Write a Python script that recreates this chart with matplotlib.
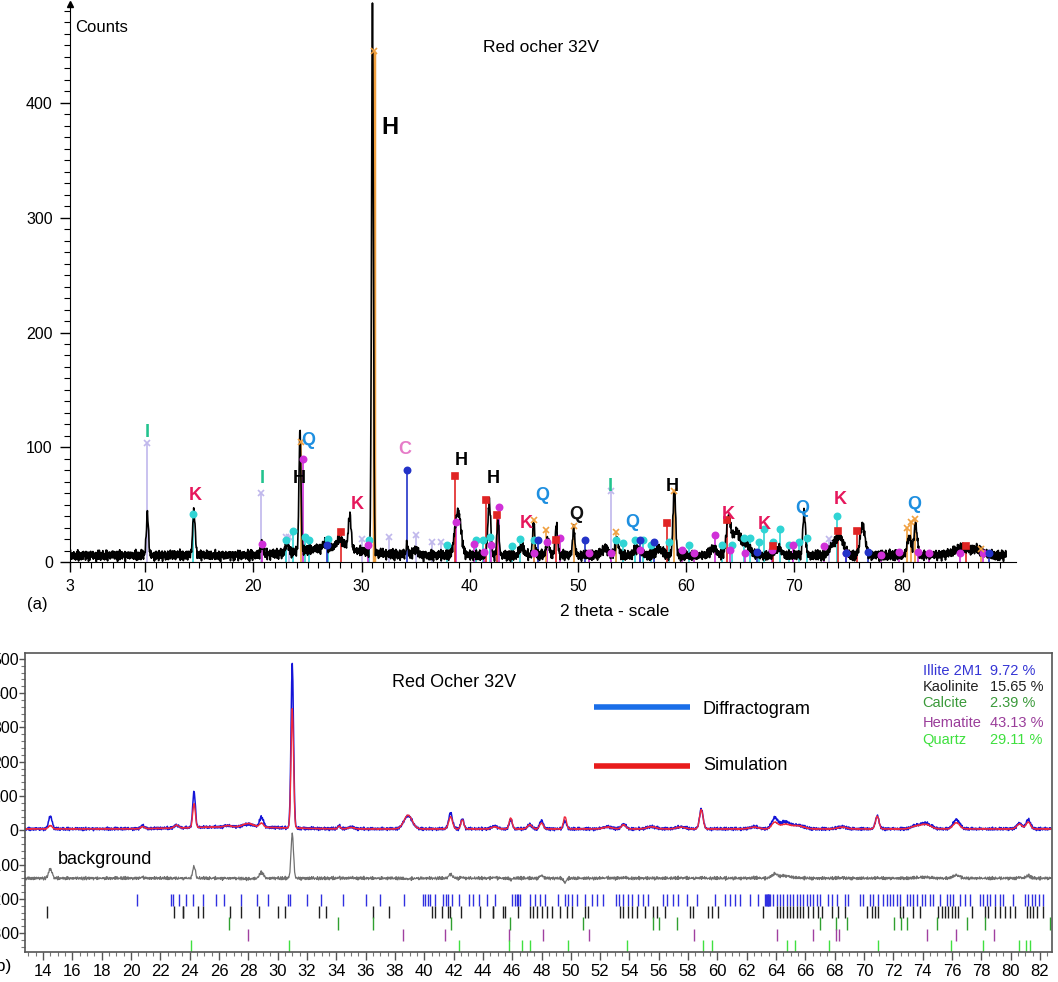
import numpy as np
import matplotlib.pyplot as plt
from matplotlib.ticker import MultipleLocator, FixedLocator

plt.rcParams['font.family'] = ['Liberation Sans', 'DejaVu Sans']

W, H = 1058, 982

peak_pos = [10.2, 14.5, 20.8, 23.1, 24.3, 26.6, 27.0, 28.0, 28.9, 31.0, 34.2, 35.0,
            38.9, 41.8, 42.6, 44.8, 45.9, 47.2, 48.0, 49.6, 52.5, 53.6, 55.5, 57.5,
            58.9, 62.5, 63.9, 64.6, 65.5, 68.5, 70.9, 73.5, 74.2, 76.3, 80.6, 81.2,
            85.5, 87.0]
peak_obs = [36, 37, 9, 8, 105, 4, 6, 8, 30, 477, 10, 5,
            38, 46, 30, 8, 28, 12, 25, 24, 6, 14, 6, 6,
            58, 6, 30, 20, 10, 6, 38, 8, 16, 27, 16, 27,
            6, 4]
peak_sim = [30, 10, 6, 8, 70, 4, 6, 10, 12, 348, 8, 4,
            40, 35, 27, 6, 32, 12, 17, 36, 5, 12, 6, 5,
            56, 5, 18, 13, 9, 5, 37, 7, 13, 18, 14, 20,
            6, 4]
peak_wid = [0.10, 0.12, 0.12, 0.15, 0.09, 0.2, 3.0, 0.35, 0.13, 0.085, 0.08, 0.2,
            0.28, 0.13, 0.10, 0.2, 0.10, 0.15, 0.12, 0.10, 0.3, 0.15, 0.3, 0.3,
            0.12, 0.3, 0.2, 0.35, 0.4, 0.3, 0.12, 0.3, 0.35, 0.22, 0.18, 0.15,
            0.8, 0.5]

# counting noise read as a jitter sequence
noise_a = [2.1, -3.4, 4.0, -1.2, 0.5, -4.1, 3.2, 1.8, -2.6, -0.7, 3.9, -3.1, 1.1, 2.7,
           -4.4, 0.2, -1.9, 3.5, -2.2, 4.3, -0.4, -3.7, 2.4, 1.3, -2.9, 0.9, 3.0, -4.0,
           1.6, -1.0, 2.2, -3.3, 4.1, -0.9, -2.0, 3.6, 0.3, -3.8, 2.8, -1.5, 1.0, -2.4,
           3.3, -0.1, -4.2, 2.5, 1.9, -3.0, 0.6, 3.7, -2.7, -0.6, 2.0, -1.7, 4.4, -3.6,
           1.4, 0.0, -2.3, 3.1, -1.1, 2.6, -4.3, 0.8, 1.7, -2.8, 3.4]
noise_b = [1.2, -0.8, 2.0, -1.9, 0.4, 1.6, -2.2, 0.9, -0.3, 2.3, -1.4, 0.1, 1.8, -2.0,
           0.7, -1.1, 2.1, -0.5, -1.7, 1.3, 0.0, -2.4, 1.5, 0.6, -0.9, 2.2, -1.6, 0.3,
           1.0, -2.1, 1.9, -0.2, -1.3, 0.8, 2.4, -1.8, 0.5, -0.6, 1.4, -2.3, 1.1]

# ---- stick patterns in panel (a): positions and heights per phase
ill_x = [10.2, 20.7, 23.0, 23.3, 30.0, 32.5, 35.0, 36.5, 37.3, 53.0, 73.2]
ill_h = [104, 60, 22, 22, 20, 22, 24, 18, 18, 62, 20]
kao_x = [14.4, 23.0, 23.7, 24.8, 25.1, 26.9, 30.7, 37.9, 40.6, 41.2, 41.9, 43.9, 44.6,
         45.9, 53.5, 54.2, 55.3, 56.0, 56.7, 58.4, 60.3, 63.3, 64.2, 65.3, 65.9, 66.7,
         67.2, 68.0, 68.7, 69.5, 70.4, 71.2, 73.9]
kao_h = [42, 19, 27, 22, 19, 20, 19, 15, 19, 19, 22, 14, 20,
         19, 19, 17, 19, 19, 15, 18, 15, 15, 15, 21, 21, 18,
         29, 18, 29, 15, 18, 21, 40]
mag_x = [20.8, 24.6, 30.6, 38.7, 40.4, 41.3, 42.0, 42.7, 45.9, 47.1, 48.3, 51.0, 53.0,
         55.7, 59.6, 60.7, 62.7, 64.0, 65.4, 67.9, 69.9, 72.7, 74.8, 78.0, 79.7, 81.4,
         82.4, 85.3, 87.4]
mag_h = [16, 90, 15, 35, 16, 9, 15, 48, 8, 18, 21, 8, 8,
         11, 11, 8, 24, 11, 8, 11, 15, 14, 8, 6, 9, 9,
         8, 8, 8]
blu_x = [26.8, 34.2, 46.3, 50.6, 55.7, 57.0, 66.5, 74.8, 76.8, 88.0]
blu_h = [15, 80, 19, 19, 19, 18, 9, 8, 9, 8]
red_x = [28.1, 38.6, 41.5, 42.5, 48.0, 58.2, 63.8, 68.0, 74.0, 75.8, 85.9]
red_h = [26, 75, 54, 41, 19, 34, 37, 14, 27, 27, 14]
ora_x = [24.4, 31.1, 45.9, 47.0, 49.6, 53.5, 58.9, 80.4, 80.8, 81.1, 87.2]
ora_h = [105, 445, 37, 28, 32, 26, 62, 30, 35, 38, 12]

lab_txt = ['I', 'K', 'I', 'H', 'Q', 'K', 'H', 'C', 'H', 'H', 'K', 'Q', 'Q', 'I', 'Q',
           'H', 'K', 'K', 'Q', 'K', 'Q']
lab_x = [10.2, 14.6, 20.8, 24.2, 25.1, 29.6, 32.6, 34.0, 39.2, 42.2, 45.2, 46.7, 49.8,
         53.0, 55.0, 58.7, 63.9, 67.2, 70.7, 74.2, 81.1]
lab_y = [113, 58, 73, 73, 106, 50, 378, 98, 89, 73, 34, 58, 42,
         66, 35, 66, 42, 33, 47, 55, 50]
lab_col = ['#22c38e', '#e6175c', '#22c38e', 'black', '#1e8fe0', '#e6175c', 'black',
           '#e67cc8', 'black', 'black', '#e6175c', '#1e8fe0', '#111111', '#22c38e',
           '#1e8fe0', 'black', '#e6175c', '#e6175c', '#1e8fe0', '#e6175c', '#1e8fe0']

# ---- reflection markers in panel (b)
hkl_illite = [20.39, 22.71, 22.84, 23.30, 23.75, 24.21, 24.94, 25.80, 26.35, 27.48, 28.57,
              29.37, 30.73, 30.85, 32.03, 32.96, 34.49, 36.01, 36.99, 38.65, 39.90, 40.06,
              40.24, 40.40, 40.74, 41.31, 41.49, 41.65, 41.88, 42.38, 43.08, 43.31, 43.76,
              44.26, 44.85, 45.97, 46.20, 46.31, 46.42, 46.54, 47.22, 47.56, 47.90, 48.24,
              49.15, 49.61, 49.83, 50.06, 50.40, 50.97, 51.43, 51.77, 52.22, 53.09, 53.31,
              53.54, 53.93, 54.15, 54.61, 54.95, 55.29, 56.31, 56.54, 56.99, 57.34, 57.91,
              58.59, 59.84, 60.52, 60.86, 61.20, 61.54, 62.23, 62.80, 63.25, 63.30, 63.36,
              63.42, 63.48, 63.53, 63.59, 63.82, 64.05, 64.27, 64.50, 64.73, 64.96, 65.18,
              65.41, 65.64, 65.87, 66.09, 66.32, 66.55, 66.77, 67.00, 67.57, 67.80, 68.14,
              68.71, 68.93, 69.73, 69.96, 70.41, 70.64, 70.98, 71.32, 71.55, 71.78, 72.00,
              72.23, 72.46, 72.91, 73.14, 73.37, 73.60, 73.94, 74.16, 74.50, 74.73, 75.19,
              75.64, 75.87, 76.10, 76.55, 76.89, 77.23, 77.92, 78.14, 78.37, 78.60, 78.94,
              79.28, 79.51, 80.19, 80.99, 81.21, 81.44, 81.67, 81.90, 82.24]
hkl_kaol = [14.25, 22.94, 23.53, 23.57, 24.60, 24.89, 26.76, 27.48, 28.76, 30.05, 30.51,
            32.85, 33.30, 36.53, 37.62, 40.56, 40.74, 41.19, 41.65, 41.76, 42.49, 43.81,
            44.67, 44.72, 45.35, 45.51, 46.42, 47.22, 47.45, 47.67, 48.02, 48.36, 48.70,
            49.27, 49.72, 50.06, 50.97, 51.20, 53.36, 53.59, 53.93, 54.15, 54.50, 55.06,
            55.63, 55.86, 56.43, 58.13, 58.36, 59.38, 59.61, 60.07, 63.14, 64.05, 64.27,
            64.50, 64.73, 64.96, 65.18, 65.41, 65.64, 65.87, 66.21, 66.55, 66.89, 67.12,
            67.80, 68.25, 68.71, 70.18, 70.53, 70.75, 70.98, 72.46, 72.69, 73.37, 73.82,
            75.07, 75.30, 75.53, 75.75, 75.98, 76.21, 76.44, 77.35, 78.26, 78.48, 78.94,
            79.28, 79.62, 79.96, 80.30, 81.10, 81.33, 81.55, 81.78, 82.24]
hkl_calc = [26.71, 34.15, 36.49, 41.81, 45.86, 50.81, 55.59, 56.04, 57.27, 67.00, 68.09,
            68.87, 72.05, 72.50, 72.91, 75.00, 77.00, 78.26, 82.69]
hkl_hem = [28.01, 38.58, 41.42, 45.81, 48.13, 51.27, 58.43, 64.05, 66.55, 68.09, 68.32,
           74.32, 76.28, 78.83]
hkl_qtz = [24.07, 30.80, 42.40, 45.81, 46.65, 47.22, 49.83, 53.81, 59.04, 59.61, 64.73,
           65.30, 67.64, 70.94, 75.92, 78.14, 80.60, 81.05, 81.33]

phases = ['Illite 2M1', 'Kaolinite', 'Calcite', 'Hematite', 'Quartz']
percent = ['9.72 %', '15.65 %', '2.39 %', '43.13 %', '29.11 %']
phase_col = ['#3535d5', '#222222', '#3a9a3a', '#9a3d9a', '#3ee03e']


def profile(x, heights):
    y = np.zeros_like(x)
    for p, h, w in zip(peak_pos, heights, peak_wid):
        y += h * np.exp(-0.5 * ((x - p) / w) ** 2)
    return y


def jitter(n, shift=0):
    i = np.arange(n) + shift
    return np.array(noise_a)[i % len(noise_a)] + 0.5 * np.array(noise_b)[i % len(noise_b)]


def px(x, y):
    return x / W, 1 - y / H


fig = plt.figure(figsize=(W / 100, H / 100), dpi=100)

###############
# panel (a)  #
###############
ax = fig.add_axes([69.5 / W, 1 - 571.5 / H, 946.75 / W, 569.9 / H])
ax.set_xlim(3, 90.5)
ax.set_ylim(-8, 488)
for s in ['top', 'right']:
    ax.spines[s].set_visible(False)
ax.spines['bottom'].set_position(('data', 0))
ax.spines['left'].set_bounds(0, 486)
ax.plot([3], [486], marker='^', color='black', ms=5, clip_on=False)

xa = np.arange(3, 89.6, 0.04)
ya = 6 + profile(xa, peak_obs) + jitter(len(xa))

sticks = [(ill_x, ill_h, '#c0b8ec', 'x'), (kao_x, kao_h, '#30d4d4', 'o'),
          (mag_x, mag_h, '#d030d8', 'o'), (blu_x, blu_h, '#2333c8', 'o'),
          (red_x, red_h, '#e02424', 's'), (ora_x, ora_h, '#f0a040', 'x')]
for sx, sh, c, m in sticks:
    ax.vlines(sx, 0, sh, color=c, lw=1.2, zorder=1)
ax.vlines([31.1], 0, [445], color='#f0a040', lw=2.5, zorder=1)
ax.plot(xa, ya, color='black', lw=1.2, zorder=2)
for sx, sh, c, m in sticks:
    ax.plot(sx, sh, ls='none', marker=m, color=c, ms=4.5 if m != 'x' else 4,
            mew=1.2, zorder=4)

for t, x, y, c in zip(lab_txt, lab_x, lab_y, lab_col):
    big = (y == 378)
    ax.text(x, y, t, color=c, fontsize=17 if big else 13, fontweight='bold',
            ha='center', va='center', zorder=5)

ax.set_xticks([3, 10, 20, 30, 40, 50, 60, 70, 80])
ax.xaxis.set_minor_locator(FixedLocator(list(range(4, 90))))
ax.set_yticks([0, 100, 200, 300, 400])
ax.yaxis.set_minor_locator(FixedLocator(list(range(10, 490, 10))))
ax.tick_params(axis='both', which='major', direction='out', length=7, width=1,
               labelsize=11.5, pad=5)
ax.tick_params(axis='both', which='minor', direction='out', length=4, width=0.8)

fig.text(*px(75, 28), 'Counts', fontsize=12, ha='left', va='center')
fig.text(*px(483, 48), 'Red ocher 32V', fontsize=12.5, ha='left', va='center')
fig.text(*px(560, 612), '2 theta - scale', fontsize=12.5, ha='left', va='center')
fig.text(*px(27, 605), '(a)', fontsize=12, ha='left', va='center')

###############
# panel (b)  #
###############
bx = fig.add_axes([25 / W, 1 - 952 / H, 1027 / W, 299 / H])
bx.set_xlim(12.77, 82.82)
bx.set_ylim(-355, 517)
for s in bx.spines.values():
    s.set_color('#555555')
    s.set_linewidth(1.2)

xb = np.arange(12.8, 82.8, 0.04)
obs = 4 + profile(xb, peak_obs) + 1.0 * jitter(len(xb), 13)
sim = 4 + profile(xb, peak_sim) + 0.3 * jitter(len(xb), 29)
bx.plot(xb, obs, color='#1515d8', lw=1.1)
bx.plot(xb, sim, color='#f0283c', lw=1.0)
bx.plot(xb, obs - sim - 140, color='#707070', lw=0.9)

rows = [(hkl_illite, -185, -220, '#3030e0'), (hkl_kaol, -220, -257, '#202020'),
        (hkl_calc, -254, -290, '#30a030'), (hkl_hem, -287, -322, '#a040a0'),
        (hkl_qtz, -319, -355, '#40e040')]
for pos, lo, hi, c in rows:
    bx.vlines(pos, hi, lo, color=c, lw=1.0)

bx.plot([51.6, 58.1], [360, 360], color='#1a6ee8', lw=4, solid_capstyle='butt')
bx.plot([51.6, 58.1], [188, 188], color='#e81c1c', lw=4, solid_capstyle='butt')
bx.text(59.0, 352, 'Diffractogram', fontsize=13, va='center')
bx.text(59.0, 190, 'Simulation', fontsize=13, va='center')
bx.text(37.8, 430, 'Red Ocher 32V', fontsize=13, va='center')
bx.text(15.0, -86, 'background', fontsize=13, va='center')

for i, (name, val, c) in enumerate(zip(phases, percent, phase_col)):
    yy = [465, 418, 372, 314, 262][i]
    bx.text(74.0, yy, name, color=c, fontsize=10.5, va='center')
    bx.text(78.6, yy, val, color=c, fontsize=10.5, va='center')

bx.set_xticks(list(range(14, 83, 2)))
bx.xaxis.set_minor_locator(MultipleLocator(0.5))
bx.set_yticks([-300, -200, -100, 0, 100, 200, 300, 400, 500])
bx.yaxis.set_minor_locator(MultipleLocator(20))
bx.tick_params(axis='x', which='major', direction='out', length=6, width=1,
               labelsize=12, pad=3, color='#555555')
bx.tick_params(axis='y', which='major', direction='out', length=4, width=1,
               labelsize=11.5, pad=0.5, color='#555555')
bx.tick_params(axis='both', which='minor', direction='out', length=3, width=0.8,
               color='#777777')

fig.text(*px(12, 967), '(b)', fontsize=12.5, ha='right', va='center')

fig.savefig('out.png', dpi=100)
